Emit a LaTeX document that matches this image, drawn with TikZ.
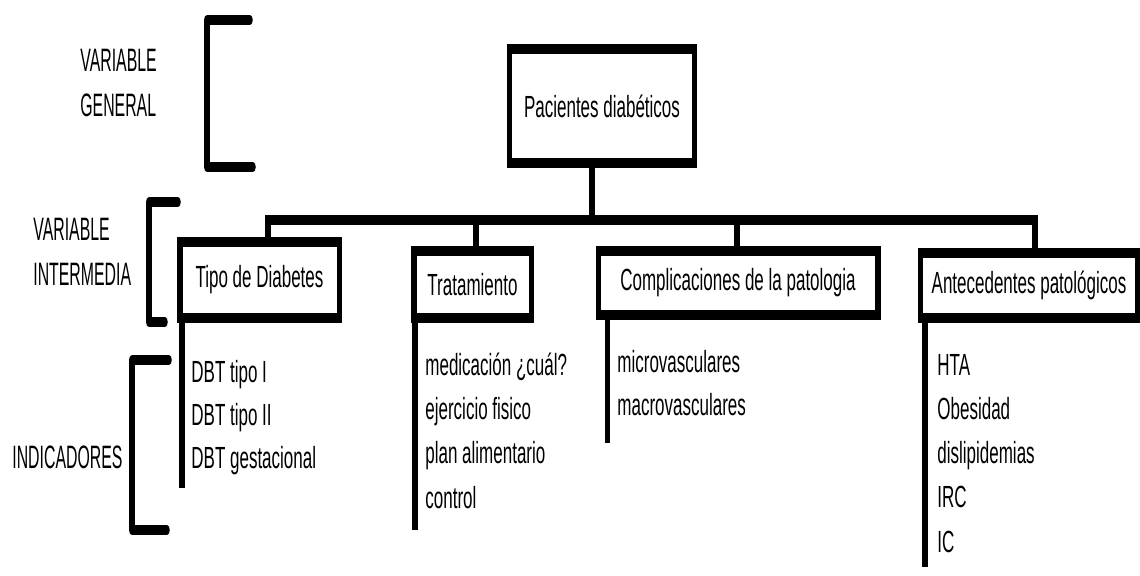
\documentclass[tikz,border=0pt]{standalone}
\usepackage{fontspec}
\setmainfont{Liberation Sans}
\newfontfamily\rotfont{Liberation Sans}[FakeStretch=0.88]
\usetikzlibrary{calc}

\tikzset{
  caja/.style={draw, line width=2.75pt, inner sep=2pt, font=\fontsize{8.5}{12.3}\selectfont},
  linea/.style={line width=2.75pt},
  llave/.style={line width=2.75pt, line cap=round, line join=round},
  dato/.style={anchor=base west, inner sep=0pt, font=\fontsize{8.5}{12.3}\selectfont},
  rotulo/.style={anchor=west, align=left, inner sep=0pt, font=\rotfont\fontsize{9}{12.5}\selectfont}
}

\begin{document}
\begin{tikzpicture}[x=0.5pt, y=-0.5pt]
  \useasboundingbox (0,0) rectangle (1140,575);
  % everything is stretched upwards, as in the scanned sheet
  \begin{scope}[y=-0.27778pt, transform canvas={yscale=1.8}]
    % brackets and their labels
    \draw[llave] (250,20) -- (207,20) -- (207,167) -- (253,167);
    \draw[llave] (178,202) -- (149,202) -- (149,322) -- (165,322);
    \draw[llave] (169,360) -- (132,360) -- (132,530) -- (167,530);
    \node[rotulo] (vgen) at (80,83) {VARIABLE\\GENERAL};
    \node[rotulo] (vint) at (33,252) {VARIABLE\\INTERMEDIA};
    \node[rotulo, anchor=base west] (ind) at (12,468) {INDICADORES};

    % boxes
    \node[caja, minimum width=92.5pt, minimum height=31.9pt] (top) at (602,106) {Pacientes diabéticos};
    \node[caja, minimum width=79.75pt, minimum height=21.1pt] (tipo) at (259.5,280) {Tipo de Diabetes};
    \node[caja, minimum width=58.75pt, minimum height=18.6pt] (trat) at (472.5,284.5) {Tratamiento};
    \node[caja, minimum width=139.75pt, minimum height=17.8pt] (comp) at (738,283) {Complicaciones de la patologia};
    \node[caja, minimum width=108.4pt, minimum height=18.05pt] (ant) at (1029,285.5) {Antecedentes patológicos};

    % tree
    \coordinate (b0) at (592,220);
    \coordinate (b1) at (268,220);
    \coordinate (b2) at (476,220);
    \coordinate (b3) at (737,220);
    \coordinate (b4) at (1035,220);
    \draw[linea] (b0) -- (b0 |- top.south);
    \draw[linea] (b1 |- tipo.north) -- (b1) -- (b4) -- (b4 |- ant.north);
    \draw[linea] (b2) -- (b2 |- trat.north);
    \draw[linea] (b3) -- (b3 |- comp.north);

    % indicators
    \draw[linea] ([xshift=2.5pt]tipo.south west) -- ++(0,165);
    \draw[linea] ([xshift=2pt]trat.south west) -- ++(0,207);
    \draw[linea] ([xshift=6pt]comp.south west) -- ++(0,123);
    \draw[linea] ([xshift=3.5pt]ant.south west) -- ++(0,244);

    \foreach \t [count=\i] in {DBT tipo I, DBT tipo II, DBT gestacional}
      \node[dato] (tipo-\i) at (191,{382+43*(\i-1)}) {\t};
    \foreach \t [count=\i] in {medicación ¿cuál?, ejercicio fisico, plan alimentario, control}
      \node[dato] (trat-\i) at (425,{375+44.4*(\i-1)}) {\t};
    \foreach \t [count=\i] in {microvasculares, macrovasculares}
      \node[dato] (comp-\i) at (617,{372+43*(\i-1)}) {\t};
    \foreach \t [count=\i] in {HTA, Obesidad, dislipidemias, IRC, IC}
      \node[dato] (ant-\i) at (937,{375+44.25*(\i-1)}) {\t};
  \end{scope}
\end{tikzpicture}
\end{document}
